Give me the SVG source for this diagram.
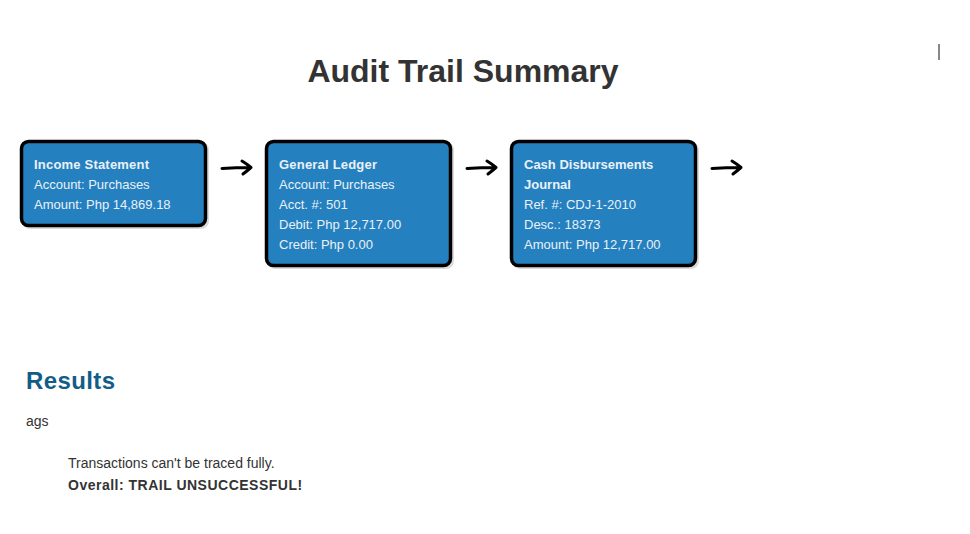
<svg xmlns="http://www.w3.org/2000/svg" width="970" height="534" viewBox="0 0 970 534">
<style>
.box{fill:#2580bf;stroke:#000;stroke-width:3.5}
.shadow{fill:#999;opacity:0.35}
.t{font-family:"Liberation Sans",Arial,sans-serif;font-size:13px;fill:#eaf1f7}
.b{font-weight:bold}
.ls{letter-spacing:0.2px}
.arrow{fill:none;stroke:#000;stroke-width:3;stroke-linecap:round;stroke-linejoin:round}
.body{font-family:"Liberation Sans",Arial,sans-serif;font-size:14px;fill:#333}
</style>
<rect width="970" height="534" fill="#fff"/>
<text x="463" y="82" text-anchor="middle" font-family="'Liberation Sans',Arial,sans-serif" font-size="32" font-weight="bold" fill="#333">Audit Trail Summary</text>
<rect x="938" y="44" width="2" height="16" fill="#888"/>
<g id="node-income">
<rect class="shadow" x="22" y="142" width="187" height="87" rx="8"/>
<rect class="box" x="21.5" y="141.5" width="184" height="84" rx="7"/>
<text class="t b ls" x="34" y="169">Income Statement</text>
<text class="t" x="34" y="189">Account: Purchases</text>
<text class="t" x="34" y="209">Amount: Php 14,869.18</text>
</g>
<g id="node-ledger">
<rect class="shadow" x="267" y="142" width="187" height="127" rx="8"/>
<rect class="box" x="266.5" y="141.5" width="184" height="124" rx="7"/>
<text class="t b ls" x="279" y="169">General Ledger</text>
<text class="t" x="279" y="189">Account: Purchases</text>
<text class="t" x="279" y="209">Acct. #: 501</text>
<text class="t" x="279" y="229">Debit: Php 12,717.00</text>
<text class="t" x="279" y="249">Credit: Php 0.00</text>
</g>
<g id="node-cdj">
<rect class="shadow" x="512" y="142" width="187" height="127" rx="8"/>
<rect class="box" x="511.5" y="141.5" width="184" height="124" rx="7"/>
<text class="t b" x="524" y="169">Cash Disbursements</text>
<text class="t b" x="524" y="189">Journal</text>
<text class="t" x="524" y="209">Ref. #: CDJ-1-2010</text>
<text class="t" x="524" y="229">Desc.: 18373</text>
<text class="t" x="524" y="249">Amount: Php 12,717.00</text>
</g>
<g id="connectors">
<path class="arrow" d="M222 168.5 Q236 167.5 251 167.5 M242 161 Q247 164 251 167.5 Q247 171 243 174"/>
<path class="arrow" d="M467 168.5 Q481 167.5 496 167.5 M487 161 Q492 164 496 167.5 Q492 171 488 174"/>
<path class="arrow" d="M712 168.5 Q726 167.5 741 167.5 M732 161 Q737 164 741 167.5 Q737 171 733 174"/>
</g>
<text x="26" y="389" font-family="'Liberation Sans',Arial,sans-serif" font-size="24" font-weight="bold" fill="#115d88" letter-spacing="0.4">Results</text>
<text class="body" x="26" y="426">ags</text>
<text class="body" x="68" y="468">Transactions can't be traced fully.</text>
<text class="body" x="68" y="490" font-weight="bold" letter-spacing="0.5">Overall: TRAIL UNSUCCESSFUL!</text>
</svg>
